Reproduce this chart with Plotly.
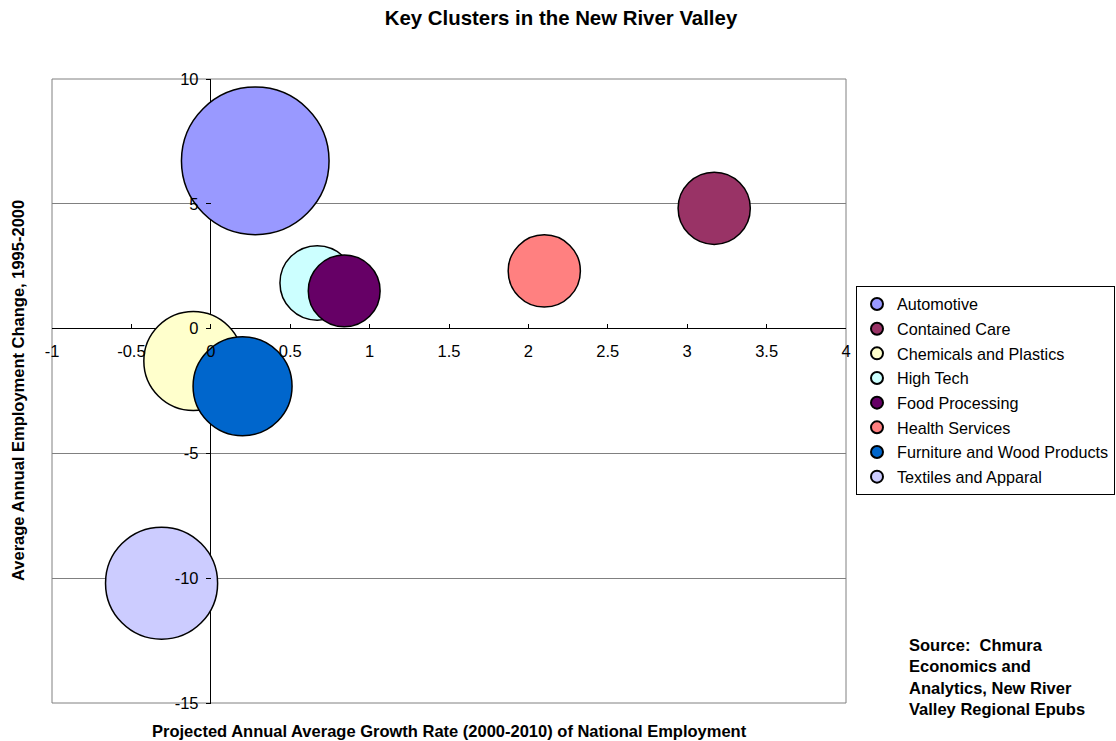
import plotly.graph_objects as go

# ---- data ----
clusters = ["Automotive", "Contained Care", "Chemicals and Plastics", "High Tech",
            "Food Processing", "Health Services", "Furniture and Wood Products",
            "Textiles and Apparal"]
growth_national = [0.28, 3.17, -0.11, 0.67, 0.84, 2.10, 0.20, -0.31]     # x
employment_change = [6.72, 4.82, -1.30, 1.83, 1.51, 2.31, -2.31, -10.2]   # y
cluster_size = [4180, 1000, 1880, 1065, 990, 1000, 1880, 2410]          # bubble size
colors = ["#9999FF", "#993366", "#FFFFCC", "#CCFFFF", "#660066", "#FF8080",
          "#0066CC", "#CCCCFF"]

x_tick_vals = [-1, -0.5, 0, 0.5, 1, 1.5, 2, 2.5, 3, 3.5, 4]
x_tick_text = ["-1", "-0.5", "0", "0.5", "1", "1.5", "2", "2.5", "3", "3.5", "4"]
y_tick_vals = [-15, -10, -5, 0, 5, 10]
y_tick_text = ["-15", "-10", "-5", "0", "5", "10"]

FONT = "Liberation Sans, Arial, sans-serif"
FS = 16.5
SIZEREF = 2 * 1000 / 72.2 ** 2

fig = go.Figure()
for name, xv, yv, sv, c in zip(clusters, growth_national, employment_change,
                               cluster_size, colors):
    fig.add_trace(go.Scatter(
        x=[xv], y=[yv], name=name, mode="markers", legendgroup=name,
        marker=dict(size=[sv], sizemode="area", sizeref=SIZEREF, color=c,
                    opacity=1, line=dict(color="black", width=1.5)),
    ))

W, H = 1116, 741
L, R, T, B = 52, 270, 79, 38
PW, PH = W - L - R, H - T - B

fig.update_layout(
    width=W, height=H,
    margin=dict(l=L, r=R, t=T, b=B, autoexpand=False),
    paper_bgcolor="white", plot_bgcolor="white",
    font=dict(family=FONT, size=FS, color="black"),
    title=dict(text="<b>Key Clusters in the New River Valley</b>",
               x=561 / W, xref="container", xanchor="center",
               y=1 - 18 / H, yref="container", yanchor="middle",
               font=dict(size=20.4, family=FONT, color="black")),
    xaxis=dict(range=[-1, 4], anchor="free", position=0.6,
               tickmode="array", tickvals=x_tick_vals, ticktext=x_tick_text,
               ticks="inside", ticklen=5, tickcolor="black", tickwidth=1,
               ticklabelstandoff=11,
               showline=False, showgrid=False,
               zeroline=True, zerolinecolor="black", zerolinewidth=1,
               tickfont=dict(size=FS, family=FONT, color="black")),
    yaxis=dict(range=[-15, 10], anchor="free", position=0.2,
               tickmode="array", tickvals=y_tick_vals, ticktext=y_tick_text,
               ticks="outside", ticklen=5, tickcolor="black", tickwidth=1,
               ticklabelstandoff=4,
               showline=False, showgrid=True, gridcolor="#808080", gridwidth=1,
               zeroline=True, zerolinecolor="black", zerolinewidth=1,
               tickfont=dict(size=FS, family=FONT, color="black")),
    legend=dict(x=(856 - L) / PW, xanchor="left",
                y=(H - B - 286) / PH, yanchor="top",
                bgcolor="white", bordercolor="black", borderwidth=1,
                itemsizing="constant", traceorder="grouped", tracegroupgap=0.6,
                font=dict(size=16.2, family=FONT, color="black")),
    shapes=[dict(type="rect", xref="paper", yref="paper", x0=0, x1=1, y0=0, y1=1,
                 line=dict(color="#808080", width=1), layer="below")],
    annotations=[
        dict(text="<b>Projected Annual Average Growth Rate (2000-2010) of National Employment</b>",
             xref="paper", yref="paper", x=0.5, y=(H - B - 731) / PH,
             xanchor="center", yanchor="middle", showarrow=False,
             font=dict(size=FS, family=FONT, color="black")),
        dict(text="<b>Average Annual Employment Change, 1995-2000</b>",
             xref="paper", yref="paper", x=(18 - L) / PW, y=0.5,
             xanchor="center", yanchor="middle", textangle=-90, showarrow=False,
             font=dict(size=FS, family=FONT, color="black")),
        dict(text="<b>Source:  Chmura<br>Economics and<br>Analytics, New River<br>Valley Regional Epubs</b>",
             xref="paper", yref="paper", x=(907 - L) / PW, xanchor="left",
             y=(H - B - 634) / PH, yanchor="top", align="left",
             showarrow=False, font=dict(size=FS, family=FONT, color="black")),
    ],
)

fig.write_html("out.html", config={"displayModeBar": False},
               post_script="document.body.style.margin='0';")
